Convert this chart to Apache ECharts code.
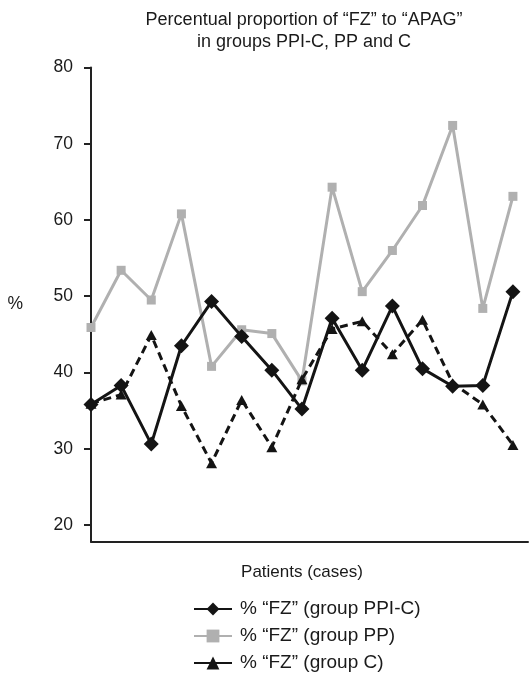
<!DOCTYPE html>
<html>
<head>
<meta charset="utf-8">
<script src="https://cdn.jsdelivr.net/npm/echarts@6/dist/echarts.min.js"></script>
<style>
html,body{margin:0;padding:0;background:#fff;}
#chart{width:530px;height:673px;}
</style>
</head>
<body>
<div id="chart"></div>
<script>
var patients = ['1','2','3','4','5','6','7','8','9','10','11','12','13','14','15'];
var groupPPIC = [35.8,38.3,30.6,43.5,49.3,44.7,40.3,35.2,47.1,40.3,48.7,40.5,38.2,38.3,50.6];
var groupPP = [45.9,53.4,49.5,60.8,40.8,45.6,45.1,38.9,64.3,50.6,56.0,61.9,72.4,48.4,63.1];
var groupC = [35.9,37.1,44.9,35.6,28.1,36.4,30.2,39.1,45.7,46.7,42.4,46.9,38.6,35.8,30.5];
var yTicks = [20,30,40,50,60,70,80];
var seriesNames = ['% \u201CFZ\u201D (group PPI-C)','% \u201CFZ\u201D (group PP)','% \u201CFZ\u201D (group C)'];

function pairs(arr){ return patients.map(function(p,i){ return [i, arr[i]]; }); }

var FONT = '"Liberation Sans", Arial, sans-serif';
var chart = echarts.init(document.getElementById('chart'), null, {renderer:'canvas'});
chart.setOption({
  animation:false,
  backgroundColor:'#fff',
  textStyle:{fontFamily:FONT},
  title:{
    text:'Percentual proportion of \u201CFZ\u201D to \u201CAPAG\u201D\nin groups PPI-C, PP and C',
    left:299, top:4, textAlign:'center',
    textStyle:{fontFamily:FONT, fontSize:18, fontWeight:'normal', color:'#1a1a1a', lineHeight:22}
  },
  legend:{
    data:[
      {name:seriesNames[0]},
      {name:seriesNames[1]},
      {name:seriesNames[2], lineStyle:{type:'solid'}}
    ],
    orient:'vertical', left:193, top:598, height:110, padding:0,
    itemWidth:38, itemHeight:16, itemGap:5,
    textStyle:{fontFamily:FONT, fontSize:19, lineHeight:22, color:'#1a1a1a', padding:[0,0,0,3]}
  },
  grid:{left:91, right:2, top:67.5, bottom:131.3},
  xAxis:{
    type:'value', min:0, max:14.5,
    name:'Patients (cases)', nameLocation:'middle', nameGap:22,
    nameTextStyle:{fontFamily:FONT, fontSize:17, color:'#1a1a1a', padding:[0,15,0,0]},
    axisLine:{show:true, onZero:false, lineStyle:{color:'#222', width:2}},
    axisTick:{show:false}, axisLabel:{show:false}, splitLine:{show:false}
  },
  yAxis:{
    type:'value', min:17.8, max:80,
    name:'%', nameLocation:'middle', nameGap:68, nameRotate:0,
    nameTextStyle:{fontFamily:FONT, fontSize:17.5, color:'#1a1a1a'},
    axisLine:{show:true, lineStyle:{color:'#222', width:2}},
    axisTick:{show:true, length:7, customValues:yTicks, lineStyle:{color:'#222', width:2}},
    axisLabel:{show:true, customValues:yTicks, margin:18, fontFamily:FONT, fontSize:17.5, color:'#1a1a1a'},
    splitLine:{show:false}
  },
  series:[
    {name:seriesNames[0], type:'line', z:5, data:pairs(groupPPIC),
     symbol:'diamond', symbolSize:15,
     lineStyle:{color:'#141414', width:3}, itemStyle:{color:'#141414'}},
    {name:seriesNames[1], type:'line', z:3, data:pairs(groupPP),
     symbol:'rect', symbolSize:9,
     lineStyle:{color:'#b0b0b0', width:3}, itemStyle:{color:'#b0b0b0'}},
    {name:seriesNames[2], type:'line', z:4, data:pairs(groupC),
     symbol:'triangle', symbolSize:[11,10],
     lineStyle:{color:'#141414', width:3, type:[8,5]}, itemStyle:{color:'#141414'}}
  ]
});
</script>
</body>
</html>
